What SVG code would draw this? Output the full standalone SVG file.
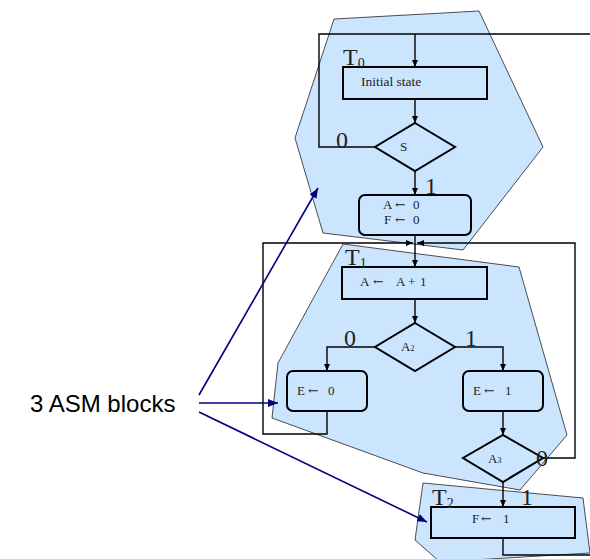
<svg xmlns="http://www.w3.org/2000/svg" width="590" height="559" viewBox="0 0 590 559">
  <style>
    .blk { fill: #cce5ff; stroke: #222; stroke-width: 0.8; }
    .box { fill: none; stroke: #000; stroke-width: 2; }
    .wire { fill: none; stroke: #000; stroke-width: 1.4; }
    .call { fill: none; stroke: #000080; stroke-width: 1.6; }
    .t { font-family: "Liberation Serif", "DejaVu Serif", serif; fill: #222; }
    .small { font-size: 13px; }
    .big { font-size: 24px; }
    .sub { font-size: 14px; }
    .arr { font-family: "DejaVu Serif", serif; font-size: 12.5px; }
    .lbl { font-family: "Liberation Sans", Arial, sans-serif; font-size: 24px; fill: #000; }
  </style>
  <defs>
    <marker id="ah" viewBox="0 0 7 6" refX="7" refY="3" markerWidth="7" markerHeight="6" markerUnits="userSpaceOnUse" orient="auto">
      <path d="M0,0 L7,3 L0,6 z" fill="#000"/>
    </marker>
    <marker id="ahNavy" viewBox="0 0 10 8" refX="10" refY="4" markerWidth="10" markerHeight="8" markerUnits="userSpaceOnUse" orient="auto">
      <path d="M0,0 L10,4 L0,8 z" fill="#000080"/>
    </marker>
  </defs>

  <!-- ASM block outlines -->
  <g id="block-T0">
    <polygon class="blk" points="334,19 479,11 543,147 463,250 323,233 295,138"/>
  </g>
  <g id="block-T1">
    <polygon class="blk" points="343,244 519,267 567,435 520,490 423,473 272,418 278,363"/>
  </g>
  <g id="block-T2">
    <polygon class="blk" points="423,483 583,498 590,553 440,562 415,540"/>
  </g>

  <!-- connectors -->
  <g id="connectors">
    <polyline class="wire" points="375,147 319,147 319,34 590,34"/>
    <line class="wire" x1="415" y1="34" x2="415" y2="67" marker-end="url(#ah)"/>
    <line class="wire" x1="415" y1="99" x2="415" y2="123" marker-end="url(#ah)"/>
    <line class="wire" x1="415" y1="170" x2="415" y2="195" marker-end="url(#ah)"/>
    <line class="wire" x1="415" y1="235" x2="415" y2="267" marker-end="url(#ah)"/>
    <polyline class="wire" points="327,411 327,434 263,434 263,243 413,243" marker-end="url(#ah)"/>
    <polyline class="wire" points="543,458 575,458 575,243 417,243" marker-end="url(#ah)"/>
    <line class="wire" x1="415" y1="299" x2="415" y2="323" marker-end="url(#ah)"/>
    <polyline class="wire" points="375,347 327,347 327,371" marker-end="url(#ah)"/>
    <polyline class="wire" points="455,347 503,347 503,371" marker-end="url(#ah)"/>
    <line class="wire" x1="503" y1="411" x2="503" y2="435" marker-end="url(#ah)"/>
    <line class="wire" x1="503" y1="482" x2="503" y2="507" marker-end="url(#ah)"/>
    <polyline class="wire" points="503,538 503,555 590,555"/>
    <!-- callout arrows -->
    <line class="call" x1="199" y1="395" x2="318" y2="188" marker-end="url(#ahNavy)"/>
    <line class="call" x1="199" y1="403" x2="278" y2="403" marker-end="url(#ahNavy)"/>
    <line class="call" x1="199" y1="412" x2="427" y2="522" marker-end="url(#ahNavy)"/>
  </g>

  <!-- state T0 -->
  <g id="initial-state">
    <rect class="box" x="343" y="67" width="144" height="32"/>
    <text class="t small" x="361" y="86" style="font-size:13.5px">Initial state</text>
    <text class="t big" x="343" y="65">T<tspan class="sub" dy="3">0</tspan></text>
  </g>
  <g id="decision-S">
    <polygon class="box" points="415,123 455,147 415,171 375,147"/>
    <text class="t small" x="400" y="151">S</text>
    <text class="t big" x="336" y="148">0</text>
    <text class="t big" x="425" y="194">1</text>
  </g>
  <g id="clear-AF">
    <rect class="box" x="359" y="195" width="112" height="40" rx="6"/>
    <text class="t small"><tspan x="383" y="209">A</tspan><tspan class="arr" x="395" y="209">←</tspan><tspan x="413" y="209">0</tspan><tspan x="384" y="224">F</tspan><tspan class="arr" x="395" y="224">←</tspan><tspan x="413" y="224">0</tspan></text>
  </g>

  <!-- state T1 -->
  <g id="increment-A">
    <rect class="box" x="342" y="267" width="145" height="32"/>
    <text class="t small" y="286"><tspan x="360">A</tspan><tspan class="arr" x="373">←</tspan><tspan x="396">A</tspan><tspan x="408">+</tspan><tspan x="420">1</tspan></text>
    <text class="t big" x="345" y="265">T<tspan class="sub" dy="3">1</tspan></text>
  </g>
  <g id="decision-A2">
    <polygon class="box" points="415,323 455,347 415,371 375,347"/>
    <text class="t small" x="401" y="351">A<tspan style="font-size:8px">2</tspan></text>
    <text class="t big" x="344" y="346">0</text>
    <text class="t big" x="465" y="346">1</text>
  </g>
  <g id="clear-E">
    <rect class="box" x="287" y="371" width="80" height="40" rx="6"/>
    <text class="t small" y="395"><tspan x="297">E</tspan><tspan class="arr" x="308">←</tspan><tspan x="328">0</tspan></text>
  </g>
  <g id="set-E">
    <rect class="box" x="463" y="371" width="80" height="40" rx="6"/>
    <text class="t small" y="395"><tspan x="473">E</tspan><tspan class="arr" x="484">←</tspan><tspan x="505">1</tspan></text>
  </g>
  <g id="decision-A3">
    <polygon class="box" points="503,435 543,458 503,482 463,458"/>
    <text class="t small" x="488" y="463">A<tspan style="font-size:8px">3</tspan></text>
    <text class="t big" x="536" y="466">0</text>
  </g>

  <!-- state T2 -->
  <g id="set-F">
    <rect class="box" x="431" y="507" width="144" height="31"/>
    <text class="t small" y="523"><tspan x="472">F</tspan><tspan class="arr" x="481">←</tspan><tspan x="503">1</tspan></text>
    <text class="t big" x="432" y="505">T<tspan class="sub" dy="3">2</tspan></text>
    <text class="t big" x="521" y="505">1</text>
  </g>

  <g id="caption">
    <text class="lbl" x="30" y="412">3 ASM blocks</text>
  </g>
</svg>
